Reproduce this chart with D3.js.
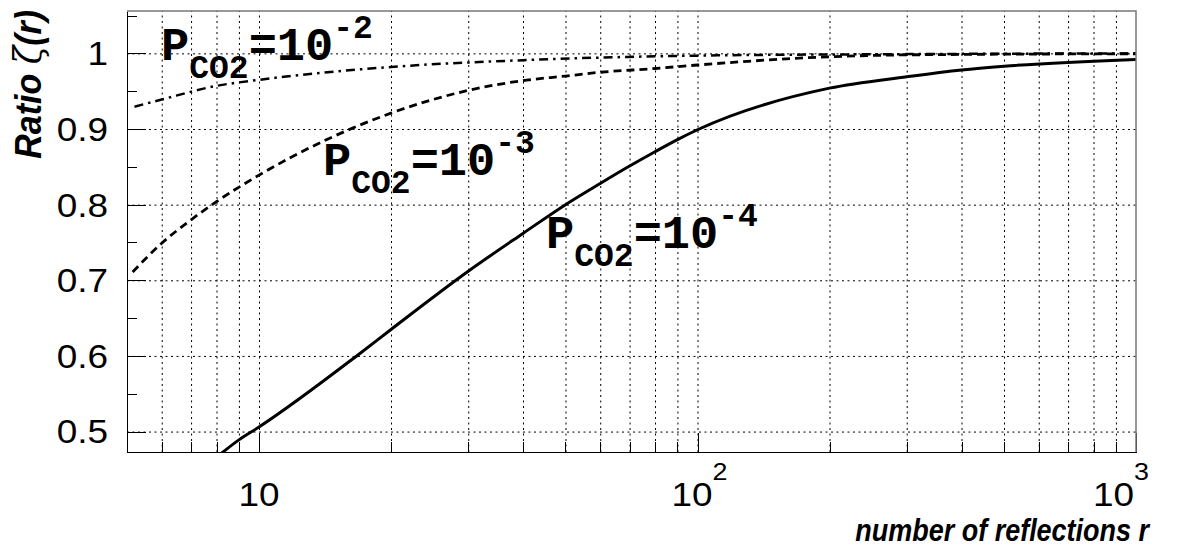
<!DOCTYPE html>
<html>
<head>
<meta charset="utf-8">
<script src="https://cdn.jsdelivr.net/npm/d3@7"></script>
<style>
  body { margin: 0; background: #fff; }
  svg { display: block; }
  .grid line { stroke: #000; stroke-width: 1; stroke-dasharray: 2,3.5; }
  .grid path { display: none; }
  .axis path, .axis line { stroke: #000; stroke-width: 1; shape-rendering: crispEdges; }
  .tick-label { font-family: "Liberation Sans", Arial, sans-serif; font-size: 33px; fill: #000; }
  .title { font-family: "Liberation Sans", Arial, sans-serif; font-weight: bold; font-style: italic; fill: #000; }
  .plabel { font-family: "Liberation Mono", "Courier New", monospace; font-weight: bold; fill: #000; }
</style>
</head>
<body>
<svg id="chart" width="1183" height="548"></svg>
<script>
// values: [r, zeta(r)]
const pco2_1e4 = [[8,0.466],[9,0.489],[10,0.506],[16.7,0.60],[20,0.635],[30,0.712],[40,0.762],[50,0.800],
  [60,0.828],[70,0.851],[80,0.870],[90,0.886],[100,0.899],[200,0.954],[300,0.969],[400,0.978],[500,0.983],[1000,0.992]];
const pco2_1e3 = [[5.15,0.711],[6,0.749],[7,0.780],[8,0.804],[10,0.839],[20,0.921],[30,0.951],[40,0.964],[50,0.970],
  [60,0.975],[80,0.980],[100,0.9846],[200,0.9955],[300,0.998],[1000,0.9995]];
const pco2_1e2 = [[5.2,0.9295],[6,0.939],[8,0.957],[10,0.965],[20,0.982],[40,0.991],[100,0.997],[300,0.999],[1000,1.0]];

const xMajor = [10, 100, 1000];
const xMinor = [6,7,8,9,20,30,40,50,60,70,80,90,200,300,400,500,600,700,800,900];
const yMajor = [0.5, 0.6, 0.7, 0.8, 0.9, 1.0];
const yMinor = [0.55, 0.65, 0.75, 0.85, 0.95, 1.05];
const xLabels = [{v:10, base:"10", sup:""}, {v:100, base:"10", sup:"2"}, {v:1000, base:"10", sup:"3"}];

const m = {left:127, right:1136, top:11, bottom:452};
const sx = 1.12; // the picture's text is a bit wider than tall

const svg = d3.select("#chart");
const x = d3.scaleLog().domain([5, 1000]).range([m.left, m.right]);
const y = d3.scaleLinear().domain([0.473, 1.056]).range([m.bottom, m.top]);

svg.append("clipPath").attr("id","plotclip").append("rect")
  .attr("x", m.left).attr("y", m.top).attr("width", m.right-m.left).attr("height", m.bottom-m.top);

// grid
svg.append("g").attr("class","grid")
  .attr("transform", `translate(0,${m.bottom})`)
  .call(d3.axisBottom(x).tickValues(xMinor.concat([10,100])).tickSize(-(m.bottom-m.top)).tickFormat(""));
svg.append("g").attr("class","grid")
  .attr("transform", `translate(${m.left},0)`)
  .call(d3.axisLeft(y).tickValues(yMajor).tickSize(-(m.right-m.left)).tickFormat(""));

// curves
const line = d3.line().x(d => x(d[0])).y(d => y(d[1])).curve(d3.curveMonotoneX);
const curves = svg.append("g").attr("clip-path","url(#plotclip)").attr("fill","none").attr("stroke","#000");
curves.append("path").datum(pco2_1e2).attr("d", line).attr("stroke-width", 2.5).attr("stroke-dasharray","9,5,2.5,5");
curves.append("path").datum(pco2_1e3).attr("d", line).attr("stroke-width", 2.8).attr("stroke-dasharray","8,5");
curves.append("path").datum(pco2_1e4).attr("d", line).attr("stroke-width", 3);

// axes with inward ticks
svg.append("g").attr("class","axis").attr("transform", `translate(0,${m.bottom})`)
  .call(d3.axisBottom(x).tickValues(xMajor).tickSize(-19).tickSizeOuter(0).tickFormat(""));
svg.append("g").attr("class","axis").attr("transform", `translate(0,${m.bottom})`)
  .call(d3.axisBottom(x).tickValues(xMinor).tickSize(-10).tickSizeOuter(0).tickFormat(""))
  .select(".domain").remove();
svg.append("g").attr("class","axis").attr("transform", `translate(${m.left},0)`)
  .call(d3.axisLeft(y).tickValues(yMajor).tickSize(-19).tickSizeOuter(0).tickFormat(""));
svg.append("g").attr("class","axis").attr("transform", `translate(${m.left},0)`)
  .call(d3.axisLeft(y).tickValues(yMinor).tickSize(-10).tickSizeOuter(0).tickFormat(""))
  .select(".domain").remove();

// top and right frame
svg.append("path")
  .attr("d", `M${m.left},${m.top}H${m.right}V${m.bottom}`)
  .attr("fill","none").attr("stroke","#777").attr("stroke-width",1.5);

// y tick labels
svg.append("g").selectAll("text").data(yMajor).join("text")
  .attr("class","tick-label")
  .attr("transform", d => `translate(108,${y(d)}) scale(${sx},1)`)
  .attr("text-anchor","end").attr("dy","0.36em")
  .text(d => d === 1 ? "1" : d.toFixed(1));

// x tick labels
const xl = svg.append("g").selectAll("text").data(xLabels).join("text")
  .attr("class","tick-label")
  .attr("text-anchor", d => d.v === 1000 ? "end" : "middle")
  .attr("transform", d => {
    const px = d.v === 1000 ? x(d.v) + 13 : x(d.v) + (d.sup ? 2 : 0);
    return `translate(${px},506) scale(${sx},1)`;
  });
xl.append("tspan").text(d => d.base);
xl.filter(d => d.sup).append("tspan").attr("dy", -26).attr("font-size", 24).text(d => d.sup);

// axis titles
svg.append("text").attr("class","title")
  .style("font-size", "31px")
  .attr("text-anchor","end")
  .attr("transform", "translate(1149,541) scale(0.87,1)")
  .text("number of reflections r");

const yt = svg.append("text").attr("class","title")
  .style("font-size", "34px")
  .attr("text-anchor","end")
  .attr("transform", `translate(41,10) rotate(-90) scale(1,1.08)`);
yt.append("tspan").text("Ratio ");
yt.append("tspan").attr("font-family","DejaVu Serif, serif").attr("font-weight","normal").text("ζ");
yt.append("tspan").text("(r)");

// P_CO2 labels
const pLabels = [
  {exp:"-2", x:163, y:60},
  {exp:"-3", x:325, y:175},
  {exp:"-4", x:548, y:248}
];
pLabels.forEach(p => {
  const t = svg.append("text").attr("class","plabel")
    .attr("transform", `translate(${p.x - 2},${p.y})`);
  t.append("tspan").attr("font-size", 47).text("P");
  t.append("tspan").attr("font-size", 33).attr("dy", 18).text("CO2");
  t.append("tspan").attr("font-size", 47).attr("dy", -18).text("=10");
  t.append("tspan").attr("font-size", 33).attr("dy", -22).text(p.exp);
});
</script>
</body>
</html>
